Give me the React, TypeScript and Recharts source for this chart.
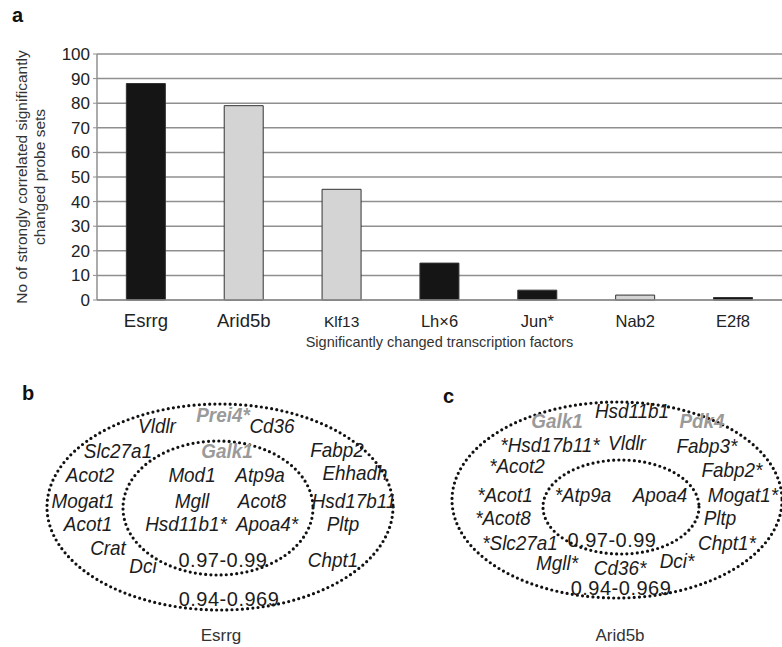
import React from "react";
import { BarChart, Bar, XAxis, YAxis, CartesianGrid, Cell } from "recharts";

// panel a data
const factors = ["Esrrg", "Arid5b", "Klf13", "Lh\u00d76", "Jun*", "Nab2", "E2f8"];
const probeSetCounts = [88, 79, 45, 15, 4, 2, 1];
const darkFactors = ["Esrrg", "Lh\u00d76", "Jun*", "E2f8"];
const yTicks = [0, 10, 20, 30, 40, 50, 60, 70, 80, 90, 100];

// panel b / c gene lists (grey ones are drawn bold grey)
const esrrgGenes = [
  "Vldlr", "Prei4*", "Cd36", "Slc27a1", "Galk1", "Fabp2", "Acot2", "Mod1", "Atp9a", "Ehhadh",
  "Mogat1", "Mgll", "Acot8", "Hsd17b11", "Acot1", "Hsd11b1*", "Apoa4*", "Pltp", "Crat", "Dci", "Chpt1",
];
const esrrgGrey = ["Prei4*", "Galk1"];
const arid5bGenes = [
  "Galk1", "Hsd11b1", "Pdk4", "*Hsd17b11*", "Vldlr", "Fabp3*", "*Acot2", "Fabp2*", "*Acot1", "*Atp9a",
  "Apoa4", "Mogat1*", "*Acot8", "Pltp", "*Slc27a1", "Chpt1*", "Mgll*", "Cd36*", "Dci*",
];
const arid5bGrey = ["Galk1", "Pdk4"];
const rangeLabels = ["0.97-0.99", "0.94-0.969"];

// where each gene name sits (same order as the lists above)
const esrrgPos = [
  [157, 433], [223, 422], [272, 433], [118, 458], [227, 458], [337, 457], [90, 482], [192, 482], [260, 482], [355, 480],
  [83, 508], [192, 508], [262, 508], [354, 508], [88, 531], [186, 531], [267, 531], [343, 531], [108, 555], [143, 573], [333, 567],
];
const arid5bPos = [
  [557, 428], [632, 418], [702, 428], [550, 452], [627, 450], [707, 453], [517, 473], [732, 477], [505, 502], [583, 502],
  [660, 502], [743, 502], [503, 525], [720, 525], [520, 550], [727, 550], [557, 570], [620, 575], [677, 568],
];

const chartData = factors.map((name, i) => ({ name, count: probeSetCounts[i] }));

const FONT = "'Liberation Sans', Arial, sans-serif";
const tickFont = [18.5, 18.5, 15.5, 16.5, 16.5, 16.5, 16.5];

function XTick(props: any) {
  const { x, y, payload, index } = props;
  return (
    <text x={x} y={y + 19} textAnchor="middle" fontFamily={FONT} fontSize={tickFont[index]} fill="#222">
      {payload.value}
    </text>
  );
}

function YLabel(props: any) {
  const cy = props.viewBox.y + props.viewBox.height / 2;
  return (
    <g fontFamily={FONT} fontSize={15.5} fill="#333" textAnchor="middle">
      <text transform={`translate(27, ${cy}) rotate(-90)`}>No of strongly correlated significantly</text>
      <text transform={`translate(45, ${cy}) rotate(-90)`}>changed probe sets</text>
    </g>
  );
}

function XLabel(props: any) {
  const vb = props.viewBox;
  return (
    <text x={vb.x + vb.width / 2} y={347} textAnchor="middle" fontFamily={FONT} fontSize={14.5} fill="#333">
      Significantly changed transcription factors
    </text>
  );
}

function Genes({ names, pos, grey }: { names: string[]; pos: number[][]; grey: string[] }) {
  return (
    <g fontFamily={FONT} fontSize={21} fontStyle="italic" textAnchor="middle">
      {names.map((n, i) => {
        const g = grey.includes(n);
        return (
          <text
            key={n + i}
            transform={`translate(${pos[i][0]}, ${pos[i][1]}) scale(0.9, 1)`}
            fill={g ? "#9a9a9a" : "#1c1c1c"}
            fontWeight={g ? "bold" : "normal"}
          >
            {n}
          </text>
        );
      })}
    </g>
  );
}

const dotted = { fill: "none", stroke: "#111", strokeWidth: 3.2, strokeDasharray: "0 5.2", strokeLinecap: "round" as const };
const rangeStyle = { fontFamily: FONT, fontSize: 20, letterSpacing: 0.5, fill: "#1c1c1c" };

export default function App() {
  return (
    <div style={{ position: "absolute", left: 0, top: 0, width: 782, height: 647, background: "#fff", overflow: "hidden" }}>
      <div style={{ position: "absolute", left: 0, top: 0 }}>
        <BarChart width={782} height={355} data={chartData} margin={{ top: 54, right: 0, left: 0, bottom: 0 }} barCategoryGap="30%">
          <CartesianGrid vertical={false} stroke="#8f8f8f" strokeWidth={1.5} />
          <XAxis
            dataKey="name"
            height={55}
            tickLine={false}
            axisLine={{ stroke: "#8f8f8f", strokeWidth: 1.5 }}
            tick={<XTick />}
            interval={0}
            label={{ content: <XLabel /> }}
          />
          <YAxis
            width={97}
            domain={[0, 100]}
            ticks={yTicks}
            interval={0}
            tickSize={4}
            tickMargin={3}
            axisLine={{ stroke: "#8f8f8f", strokeWidth: 1.5 }}
            tickLine={{ stroke: "#8f8f8f" }}
            tick={{ fill: "#222", fontSize: 17, fontFamily: FONT }}
            label={{ content: <YLabel /> }}
          />
          <Bar dataKey="count" isAnimationActive={false} stroke="#333" strokeWidth={1}>
            {chartData.map((d) => (
              <Cell key={d.name} fill={darkFactors.includes(d.name) ? "#151515" : "#d4d4d4"} />
            ))}
          </Bar>
        </BarChart>
      </div>
      <svg width={782} height={647} style={{ position: "absolute", left: 0, top: 0, pointerEvents: "none" }}>
        <text x={12} y={22} fontFamily={FONT} fontSize={20} fontWeight="bold" fill="#111">a</text>
        <text x={22} y={400} fontFamily={FONT} fontSize={20} fontWeight="bold" fill="#111">b</text>
        <text x={443} y={403} fontFamily={FONT} fontSize={20} fontWeight="bold" fill="#111">c</text>

        {/* panel b */}
        <ellipse cx={220} cy={507} rx={173} ry={103} {...dotted} />
        <ellipse cx={218} cy={508} rx={95} ry={67} {...dotted} />
        <Genes names={esrrgGenes} pos={esrrgPos} grey={esrrgGrey} />
        <g {...rangeStyle} textAnchor="middle">
          <text x={223} y={567}>{rangeLabels[0]}</text>
          <text x={229} y={606}>{rangeLabels[1]}</text>
        </g>
        <text x={221} y={641} textAnchor="middle" fontFamily={FONT} fontSize={17} fill="#333">Esrrg</text>

        {/* panel c */}
        <ellipse cx={617} cy={500} rx={165} ry={98} {...dotted} />
        <ellipse cx={621} cy={507} rx={78} ry={47} {...dotted} />
        <Genes names={arid5bGenes} pos={arid5bPos} grey={arid5bGrey} />
        <g {...rangeStyle} textAnchor="middle">
          <text x={612} y={547}>{rangeLabels[0]}</text>
          <text x={621} y={595}>{rangeLabels[1]}</text>
        </g>
        <text x={620} y={641} textAnchor="middle" fontFamily={FONT} fontSize={17} fill="#333">Arid5b</text>
      </svg>
    </div>
  );
}
